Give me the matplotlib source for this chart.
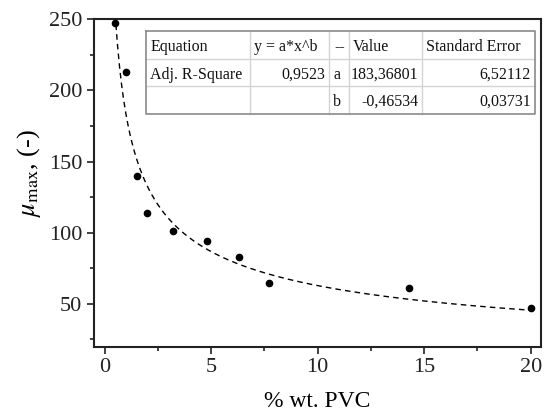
import numpy as np
import matplotlib
matplotlib.use("Agg")
import matplotlib.pyplot as plt
from matplotlib.lines import Line2D
from matplotlib.ticker import MultipleLocator

# ---- data ----
pvc = [0.5, 1.0, 1.5, 2.0, 3.2, 4.8, 6.3, 7.7, 14.3, 20.0]
mu_max = [247.2, 212.9, 139.6, 113.7, 101.0, 94.1, 83.0, 64.9, 61.1, 47.2]
fit_a = 183.36801
fit_b = -0.46534
fit_xmin, fit_xmax = 0.5, 20.0

table_rows = [
    ["Equation", "y = a*x^b", "--", "Value", "Standard Error"],
    ["Adj. R-Square", "0,9523", "a", "183,36801", "6,52112"],
    ["", "", "b", "-0,46534", "0,03731"],
]
table_align = [
    ["left", "left", "right", "left", "left"],
    ["left", "right", "left", "right", "right"],
    ["left", "left", "left", "right", "right"],
]

plt.rcParams["font.family"] = ["Liberation Serif", "DejaVu Serif"]
plt.rcParams["mathtext.fontset"] = "stix"

W, H = 549, 416
fig = plt.figure(figsize=(W / 100, H / 100), dpi=100)
ax = fig.add_axes([94 / W, 1 - 346.5 / H, (541.3 - 94) / W, (346.5 - 19.3) / H])

xf = np.linspace(fit_xmin, fit_xmax, 400)
yf = fit_a * xf ** fit_b
ax.plot(xf, yf, color="black", lw=1.0, linestyle=(0, (4, 3)), zorder=2)
ax.plot(pvc, mu_max, "o", color="black", markersize=4.5, zorder=3)

ax.set_xlim(-0.5, 20.5)
ax.set_ylim(20, 250)
ax.xaxis.set_major_locator(MultipleLocator(5))
ax.xaxis.set_minor_locator(MultipleLocator(2.5))
ax.yaxis.set_major_locator(MultipleLocator(50))
ax.yaxis.set_minor_locator(MultipleLocator(25))
ax.tick_params(which="both", direction="out", top=False, right=False,
               width=1.2, colors="#222222", labelsize=16)
ax.tick_params(which="major", length=5)
ax.tick_params(which="minor", length=3)
for sp in ax.spines.values():
    sp.set_linewidth(1.5)
    sp.set_color("#222222")

ax.set_xlabel("% wt. PVC", fontsize=17, labelpad=10)
ax.set_ylabel(r"$\mu_{\mathrm{max}}$, (-)", fontsize=19)
ax.yaxis.set_label_coords(-0.115, 0.53)

# ---- table (drawn in figure pixel coords) ----
col_x = [146.3, 250.3, 329, 349, 422.4, 535]
row_y = [31, 59.2, 86, 113.5]

def fx(px):
    return px / W

def fy(py):
    return 1 - py / H

inner = "#d4d4d4"
outer = "#8a8a8a"
for yy in row_y[1:-1]:
    fig.add_artist(Line2D([fx(col_x[0]), fx(col_x[-1])], [fy(yy), fy(yy)],
                          color=inner, lw=1.0, transform=fig.transFigure))
for xx in col_x[1:-1]:
    fig.add_artist(Line2D([fx(xx), fx(xx)], [fy(row_y[0]), fy(row_y[-1])],
                          color=inner, lw=1.0, transform=fig.transFigure))
fig.add_artist(Line2D([fx(col_x[0]), fx(col_x[-1]), fx(col_x[-1]), fx(col_x[0]), fx(col_x[0])],
                      [fy(row_y[0]), fy(row_y[0]), fy(row_y[-1]), fy(row_y[-1]), fy(row_y[0])],
                      color=outer, lw=1.2, transform=fig.transFigure))

pad = 4
for r, row in enumerate(table_rows):
    yc = (row_y[r] + row_y[r + 1]) / 2
    for c, txt in enumerate(row):
        if not txt:
            continue
        al = table_align[r][c]
        xpos = col_x[c] + pad if al == "left" else col_x[c + 1] - pad
        fig.text(fx(xpos), fy(yc), txt, ha=al, va="center_baseline", fontsize=11.5,
                 color="#111111")

fig.savefig("out.png", dpi=100)
